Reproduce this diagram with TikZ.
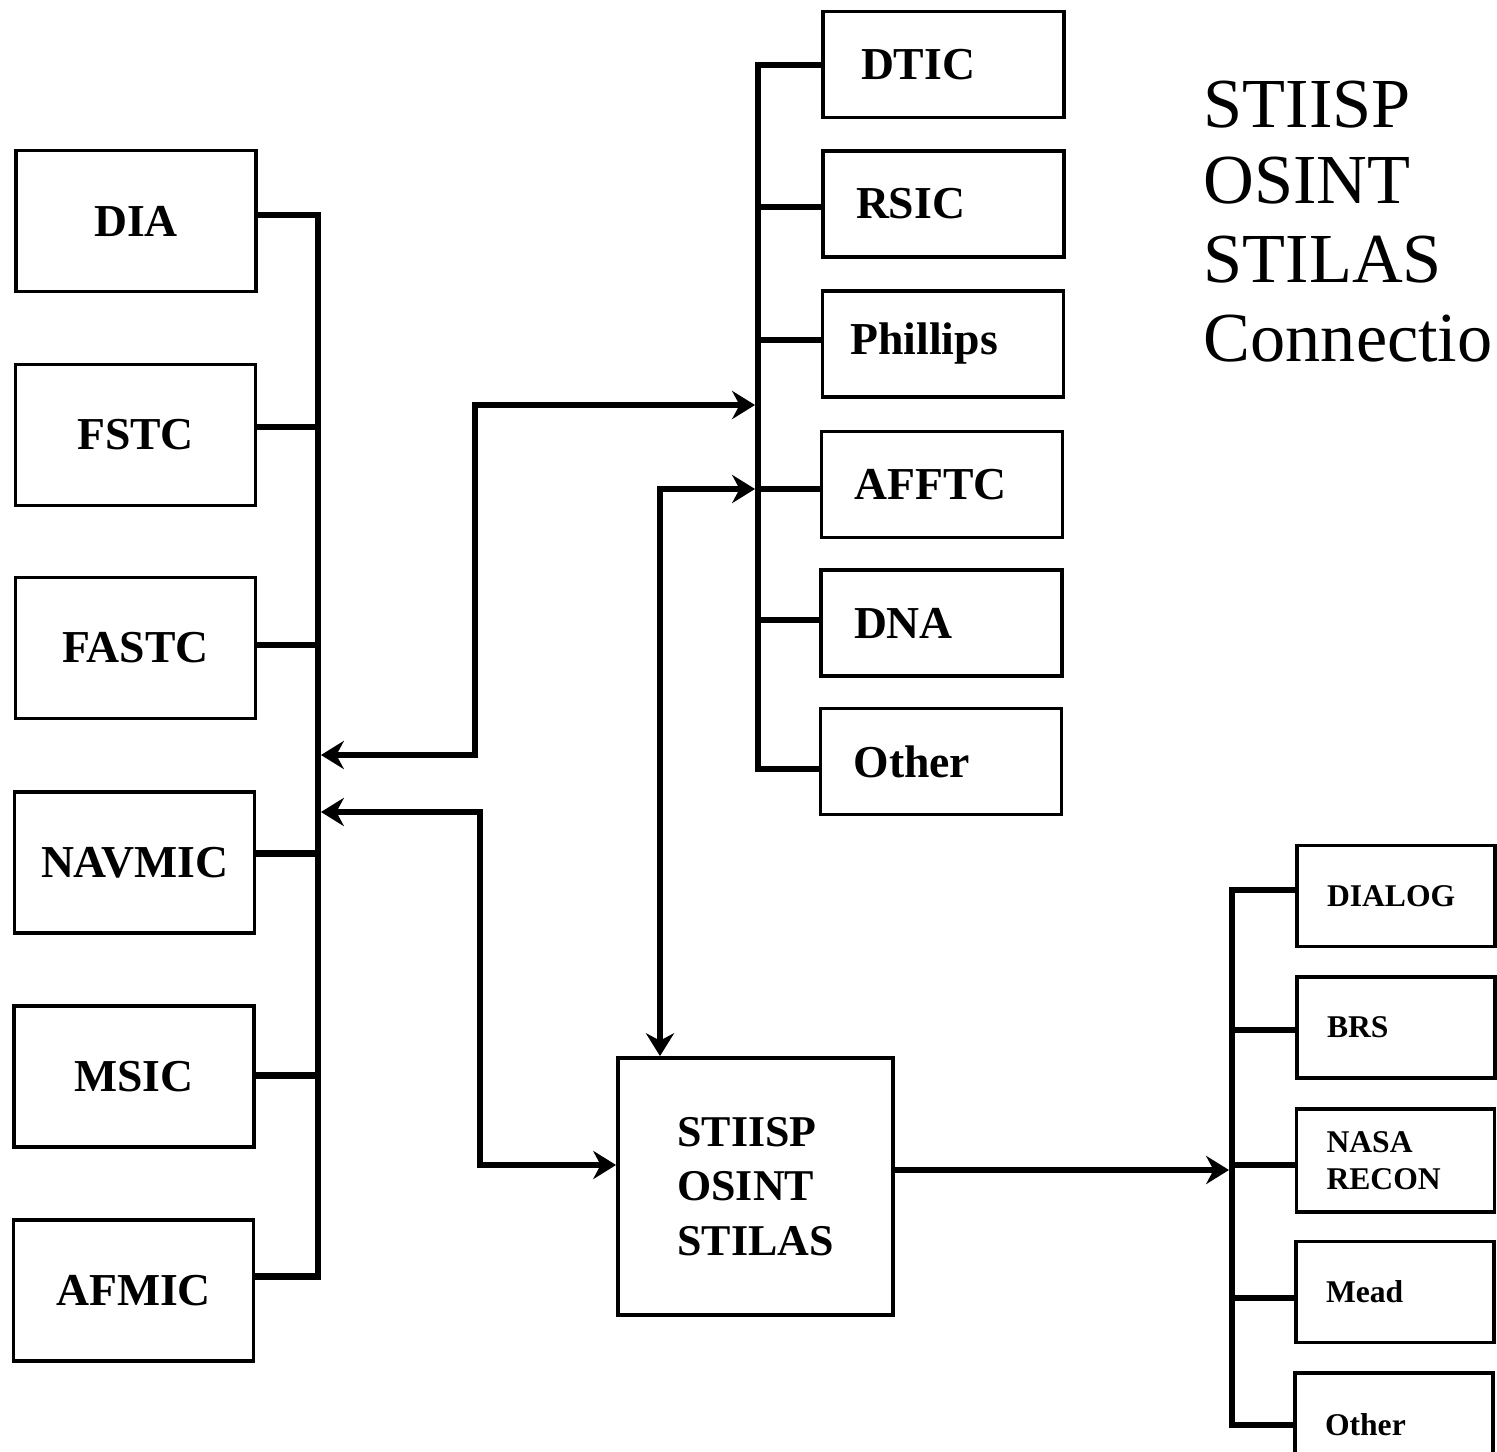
\documentclass[tikz,border=0pt]{standalone}
\usepackage{fontspec}
\setmainfont{Liberation Serif}
\usetikzlibrary{arrows.meta}
\begin{document}
\begin{tikzpicture}[
  box/.style={draw, line width=1.1pt, rectangle, inner sep=0pt},
  lbox/.style={box, minimum width=2.40cm, minimum height=1.41cm, font=\fontsize{13}{16}\selectfont\bfseries},
  tbox/.style={box, minimum width=2.41cm, minimum height=1.06cm, text width=1.75cm, inner xsep=0.33cm, align=left, font=\fontsize{13}{16}\selectfont\bfseries},
  rbox/.style={box, minimum width=1.98cm, minimum height=1.01cm, text width=1.38cm, inner xsep=0.30cm, align=left, font=\fontsize{9}{10.5}\selectfont\bfseries},
  mbox/.style={box, minimum width=2.75cm, minimum height=2.57cm, align=left, font=\fontsize{12.5}{15.6}\selectfont\bfseries},
  title/.style={anchor=base west, inner sep=0pt, font=\fontsize{20}{24}\selectfont},
  bus/.style={line width=1.9pt},
  conn/.style={line width=1.9pt, {Stealth[length=6.5pt,width=8pt]}-{Stealth[length=6.5pt,width=8pt]}},
  arr/.style={line width=1.9pt, -{Stealth[length=6.5pt,width=8pt]}},
]
\useasboundingbox (0,0) rectangle (14.97,-14.52);

% left column
\node[lbox] (dia)    at (1.36,-2.21)   {DIA};
\node[lbox] (fstc)   at (1.355,-4.35)  {FSTC};
\node[lbox] (fastc)  at (1.355,-6.48)  {FASTC};
\node[lbox] (navmic) at (1.345,-8.625) {NAVMIC};
\node[lbox] (msic)   at (1.34,-10.765) {MSIC};
\node[lbox] (afmic)  at (1.335,-12.905){AFMIC};

% top right column
\node[tbox, text width=1.65cm, inner xsep=0.38cm] (dtic) at (9.435,-0.645) {DTIC};
\node[tbox] (rsic)   at (9.435,-2.04)  {RSIC};
\node[tbox, text width=1.85cm, inner xsep=0.28cm] (phil) at (9.43,-3.44) {Phillips};
\node[tbox] (afftc)  at (9.42,-4.845)  {AFFTC};
\node[tbox] (dna)    at (9.415,-6.23)  {DNA};
\node[tbox] (oth1)   at (9.41,-7.615)  {Other};

% bottom right column
\node[rbox] (dialog) at (13.96,-8.96)   {DIALOG};
\node[rbox] (brs)    at (13.96,-10.275) {BRS};
\node[rbox, minimum height=1.03cm] (nasa) at (13.955,-11.605) {NASA\\RECON};
\node[rbox] (mead)   at (13.95,-12.92)  {Mead};
\node[rbox, minimum height=1.04cm] (oth2) at (13.94,-14.25) {Other};

% central box
\node[mbox] (stiisp) at (7.555,-11.865) {STIISP\\OSINT\\STILAS};

% title
\node[title] (t1) at (12.03,-1.27) {STIISP};
\node[title] (t2) at (12.03,-2.04) {OSINT};
\node[title] (t3) at (12.03,-2.82) {STILAS};
\node[title] (t4) at (12.03,-3.62) {Connectio};

% bus x positions
\coordinate (LB) at (3.18,0);
\coordinate (TB) at (7.58,0);
\coordinate (RB) at (12.32,0);

% left bus
\coordinate (pdia)    at ([yshift=0.06cm]dia.east);
\coordinate (pfstc)   at ([yshift=0.08cm]fstc.east);
\coordinate (pfastc)  at ([yshift=0.03cm]fastc.east);
\coordinate (pnavmic) at ([yshift=0.09cm]navmic.east);
\coordinate (pmsic)   at ([yshift=0.01cm]msic.east);
\coordinate (pafmic)  at ([yshift=0.14cm]afmic.east);
\draw[bus] (pdia) -| (pafmic -| LB) -- (pafmic);
\foreach \p in {pfstc,pfastc,pnavmic,pmsic} \draw[bus] (\p) -- (\p -| LB);

% top bus
\coordinate (pdtic)  at ([yshift=-0.005cm]dtic.west);
\coordinate (prsic)  at ([yshift=-0.03cm]rsic.west);
\coordinate (pphil)  at ([yshift=0.04cm]phil.west);
\coordinate (pafftc) at ([yshift=-0.045cm]afftc.west);
\coordinate (pdna)   at ([yshift=0.03cm]dna.west);
\coordinate (poth1)  at ([yshift=-0.075cm]oth1.west);
\draw[bus] (pdtic) -| (poth1 -| TB) -- (poth1);
\foreach \p in {prsic,pphil,pafftc,pdna} \draw[bus] (\p) -- (\p -| TB);

% bottom right bus
\coordinate (pdialog) at ([yshift=0.06cm]dialog.west);
\coordinate (pbrs)    at ([yshift=-0.025cm]brs.west);
\coordinate (pnasa)   at ([yshift=-0.045cm]nasa.west);
\coordinate (pmead)   at ([yshift=-0.06cm]mead.west);
\coordinate (poth2)   at ([yshift=0.0cm]oth2.west);
\draw[bus] (pdialog) -| (poth2 -| RB) -- (poth2);
\foreach \p in {pbrs,pnasa,pmead} \draw[bus] (\p) -- (\p -| RB);

% arrows
\coordinate (a1s) at (3.21,-7.55);
\coordinate (a1e) at (7.55,-4.05);
\draw[conn] (a1s) -- ++(1.54,0) |- (a1e);

\coordinate (a2s) at (3.21,-8.12);
\coordinate (a2e) at ([yshift=0.215cm]stiisp.west);
\draw[conn] (a2s) -- ++(1.59,0) |- (a2e);

\coordinate (a3s) at (7.55,-4.89);
\coordinate (a3e) at ([xshift=-0.955cm]stiisp.north);
\draw[conn] (a3s) -| (a3e);

\coordinate (a4s) at ([yshift=0.165cm]stiisp.east);
\coordinate (a4e) at ([xshift=-0.03cm]RB |- a4s);
\draw[arr] (a4s) -- (a4e);
\end{tikzpicture}
\end{document}
